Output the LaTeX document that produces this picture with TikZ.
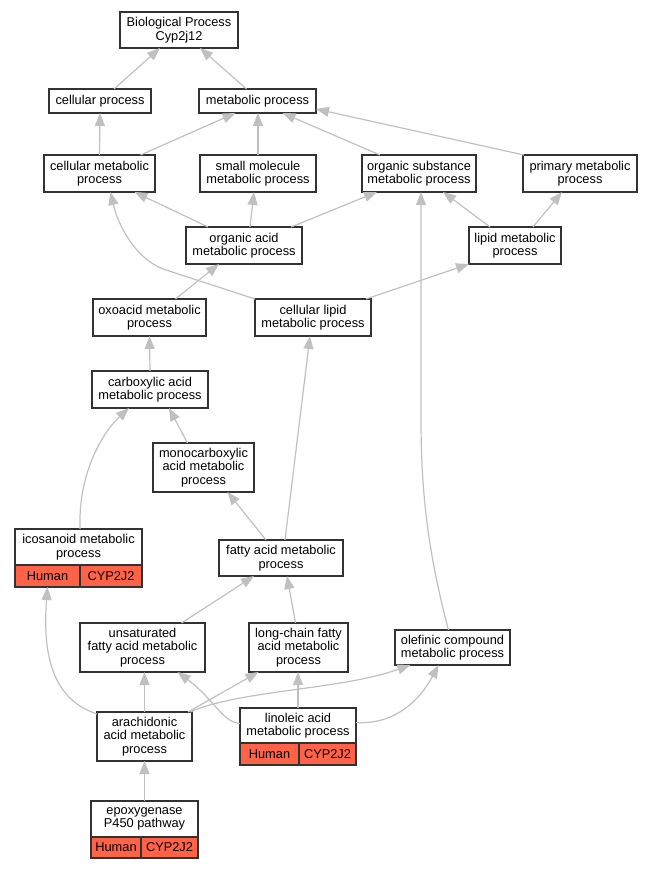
\documentclass[tikz,border=0pt]{standalone}
\usepackage{fontspec}
\setmainfont{Liberation Sans}
\usepackage{xcolor}
\usepackage{tikz}
\usetikzlibrary{arrows.meta, positioning, calc}

\definecolor{edgegray}{RGB}{192,192,192}
\definecolor{boxline}{RGB}{50,50,50}
\definecolor{genered}{RGB}{255,99,71}

\begin{document}
\begin{tikzpicture}[
    x=1bp, y=-1bp,
    term/.style={rectangle, draw=boxline, line width=1.2bp, fill=white, inner sep=0pt, outer sep=0pt, minimum height=37bp, align=center, font=\fontsize{12.8bp}{13.5bp}\selectfont},
    short/.style={term, minimum height=24bp},
    tall/.style={term, minimum height=49bp},
    gene/.style={term, fill=genered, minimum height=22bp, anchor=north west},
    arrow/.style={-{Triangle[length=13bp, width=10bp]}, line width=1.2bp, edgegray}
]
\useasboundingbox (0,0) rectangle (651,869);

% Top levels
\node[term, minimum width=118bp, minimum height=36bp] (bp) at (179,30) {Biological Process\\Cyp2j12};
\node[short, minimum width=102bp] (cp) at (100,101) {cellular process};
\node[short, minimum width=117bp] (mp) at (257.5,101) {metabolic process};

% Second row
\node[term, minimum width=111bp] (cmp) at (99.5,173.5) {cellular metabolic\\process};
\node[term, minimum width=116bp] (smp) at (258,173.5) {small molecule\\metabolic process};
\node[term, minimum width=114bp] (osmp) at (419,173.5) {organic substance\\metabolic process};
\node[term, minimum width=114bp] (pmp) at (580,173.5) {primary metabolic\\process};

% Middle
\node[term, minimum width=116bp] (oamp) at (244,245.5) {organic acid\\metabolic process};
\node[term, minimum width=92bp] (lmp) at (515,245.5) {lipid metabolic\\process};
\node[term, minimum width=113bp] (oxmp) at (149.5,317.5) {oxoacid metabolic\\process};
\node[term, minimum width=116bp] (clmp) at (313,317.5) {cellular lipid\\metabolic process};
\node[term, minimum width=116bp] (camp) at (150,389.5) {carboxylic acid\\metabolic process};
\node[tall, minimum width=101bp] (mcamp) at (203.5,467.5) {monocarboxylic\\acid metabolic\\process};

% Icosanoid term with gene row
\node[term, minimum width=127bp, minimum height=36bp] (icmp) at (78.5,547) {icosanoid metabolic\\process};
\node[gene, minimum width=65bp] (icmph) at (icmp.south west) {Human};
\node[gene, minimum width=62bp] (icmpg) at (icmph.north east) {CYP2J2};

% Fatty acid terms
\node[term, minimum width=124bp, minimum height=36bp] (famp) at (281,558) {fatty acid metabolic\\process};
\node[tall, minimum width=125bp] (ufamp) at (142.5,647.5) {unsaturated\\fatty acid metabolic\\process};
\node[tall, minimum width=99bp] (lcfamp) at (298.5,647.5) {long-chain fatty\\acid metabolic\\process};
\node[term, minimum width=115bp, minimum height=35bp] (ocmp) at (452.5,647.5) {olefinic compound\\metabolic process};
\node[tall, minimum width=95bp] (aamp) at (144.5,736.5) {arachidonic\\acid metabolic\\process};

% Linoleic term with gene row
\node[term, minimum width=116bp, minimum height=35bp] (lamp) at (298,725.5) {linoleic acid\\metabolic process};
\node[gene, minimum width=59bp] (lamph) at (lamp.south west) {Human};
\node[gene, minimum width=57bp] (lampg) at (lamph.north east) {CYP2J2};

% Epoxygenase term with gene row
\node[term, minimum width=107bp, minimum height=36bp] (ep) at (144.5,819) {epoxygenase\\P450 pathway};
\node[gene, minimum width=50bp, minimum height=21bp] (eph) at (ep.south west) {Human};
\node[gene, minimum width=57bp, minimum height=21bp] (epg) at (eph.north east) {CYP2J2};

% Edges to the upper terms
\draw[arrow] ([xshift=14bp]cp.north) -- ([xshift=-19bp]bp.south);
\draw[arrow] ([xshift=-11bp]mp.north) -- ([xshift=21bp]bp.south);
\draw[arrow] (cmp.north) -- (cp.south);
\draw[arrow] ([xshift=41bp]cmp.north) -- ([xshift=-22bp]mp.south);
\draw[arrow] (smp.north) -- (smp.north |- mp.south);
\draw[arrow] ([xshift=-39bp]osmp.north) -- ([xshift=25bp]mp.south);
\draw[arrow] ([xshift=-56bp]pmp.north) -- ([yshift=4bp]mp.south east);

% Edges to the second row
\draw[arrow] ([xshift=-36bp]oamp.north) -- ([xshift=35bp]cmp.south);
\draw[arrow] ([xshift=6bp]oamp.north) -- ([xshift=-4bp]smp.south);
\draw[arrow] ([xshift=47bp]oamp.north) -- ([xshift=-42bp]osmp.south);
\draw[arrow] ([xshift=-25bp]lmp.north) -- ([xshift=24bp]osmp.south);
\draw[arrow] ([xshift=18bp]lmp.north) -- ([xshift=-18bp]pmp.south);
\draw[arrow] (clmp.north west) -- (163,269) .. controls (135,258) and (118,225) .. ([xshift=11bp]cmp.south);
\draw[arrow] ([xshift=-4bp]ocmp.north) .. controls (430,560) and (421,500) .. (421,420) -- ([xshift=2bp]osmp.south);

% Edges in the middle
\draw[arrow] ([xshift=53bp]clmp.north) -- (lmp.south west);
\draw[arrow] ([xshift=26bp]oxmp.north) -- ([xshift=-25bp]oamp.south);
\draw[arrow] (camp.north) -- (oxmp.south);
\draw[arrow] ([xshift=-16bp]mcamp.north) -- ([xshift=19bp]camp.south);
\draw[arrow] ([xshift=1.5bp]icmp.north) .. controls (78,470) and (105,430) .. ([xshift=-21bp]camp.south);
\draw[arrow] ([xshift=-15bp]famp.north) -- ([xshift=24bp]mcamp.south);
\draw[arrow] ([xshift=4bp]famp.north) -- ([xshift=-3bp]clmp.south);

% Edges in the lower part
\draw[arrow] ([xshift=39bp]ufamp.north) -- ([xshift=-27bp]famp.south);
\draw[arrow] ([xshift=-3bp]lcfamp.north) -- ([xshift=6bp]famp.south);
\draw[arrow] ([yshift=-2bp]aamp.north west) .. controls (55,700) and (42,660) .. (icmph.south);
\draw[arrow] (aamp.north) -- (aamp.north |- ufamp.south);
\draw[arrow] ([xshift=-4bp]aamp.north east) -- ([xshift=-40bp]lcfamp.south);
\draw[arrow] ([xshift=-2bp]aamp.north east) .. controls (240,690) and (340,690) .. ([xshift=-42bp]ocmp.south);
\draw[arrow] ([yshift=2bp]lamp.west) .. controls (222,722) and (215,700) .. ([xshift=35bp]ufamp.south);
\draw[arrow] (lamp.north) -- (lamp.north |- lcfamp.south);
\draw[arrow] ([yshift=3bp]lamp.east) .. controls (395,725) and (420,700) .. ([xshift=-14bp]ocmp.south);
\draw[arrow] (ep.north) -- (aamp.south);

\end{tikzpicture}
\end{document}
